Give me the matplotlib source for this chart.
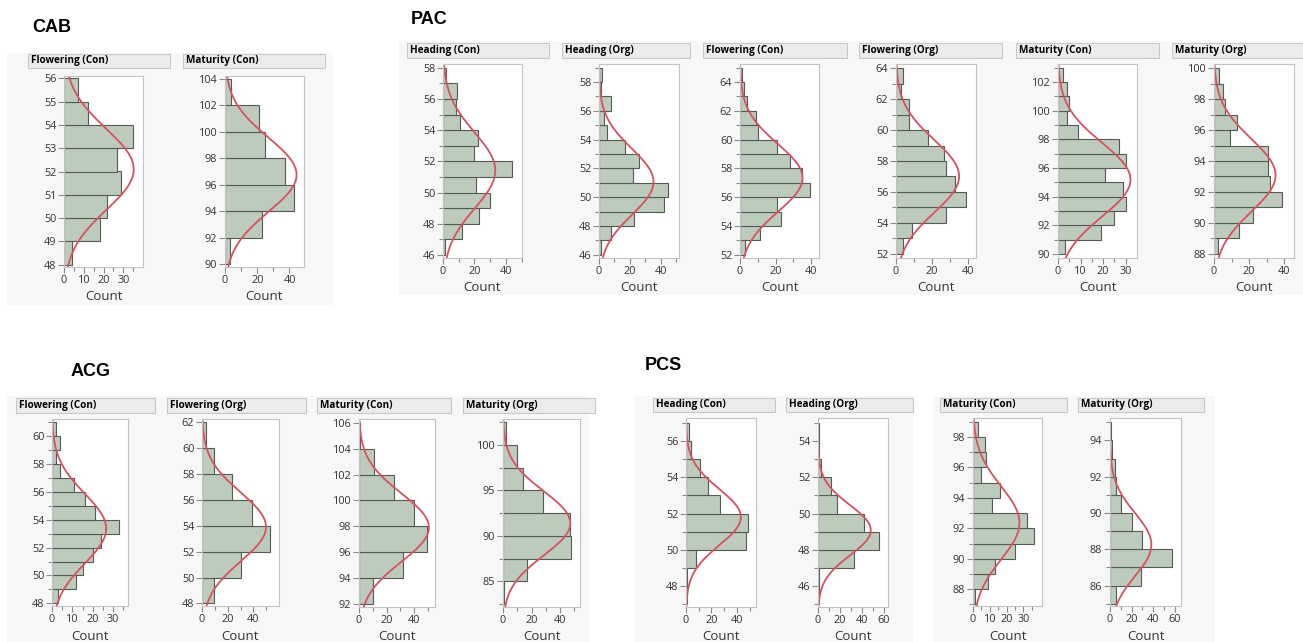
import matplotlib.pyplot as plt
import matplotlib.patches as mpatches
import numpy as np

plt.rcParams['font.family'] = ['Open Sans', 'DejaVu Sans']

W, H = 1303, 642

# bin counts, lowest bin first
cab_flowering_con = [4, 18, 22, 29, 27, 35, 12, 7]
cab_maturity_con = [3, 23, 43, 37, 25, 21, 4]

pac_heading_con = [1, 12, 23, 30, 21, 44, 20, 22, 11, 8, 9, 2]
pac_heading_org = [1, 8, 23, 42, 45, 22, 26, 17, 5, 3, 8, 1, 2]
pac_flowering_con = [3, 11, 23, 21, 39, 35, 28, 21, 10, 9, 4, 2, 1]
pac_flowering_org = [4, 9, 28, 39, 33, 28, 27, 18, 7, 7, 3, 4]
pac_maturity_con = [3, 19, 25, 30, 29, 21, 30, 27, 9, 4, 5, 4, 2]
pac_maturity_org = [2, 14, 22, 39, 32, 31, 31, 9, 13, 6, 5, 3]

acg_flowering_con = [3, 12, 15, 20, 24, 33, 21, 16, 11, 4, 2, 4, 2]
acg_flowering_org = [9, 30, 53, 39, 23, 9, 3]
acg_maturity_con = [10, 32, 49, 40, 25, 11, 1]
acg_maturity_org = [1, 17, 48, 47, 28, 14, 10, 2]

pcs_heading_con = [1, 1, 8, 47, 49, 27, 17, 11, 4, 2]
pcs_heading_org = [1, 1, 33, 56, 42, 17, 12, 3, 1, 1]
pcs_maturity_con = [1, 9, 13, 25, 36, 32, 11, 16, 5, 8, 7, 3]
pcs_maturity_org = [6, 29, 58, 30, 20, 10, 6, 5, 2, 1]

# (title, counts, first bin edge, bin width)
hists = [
    ('Flowering (Con)', cab_flowering_con, 48, 1),
    ('Maturity (Con)', cab_maturity_con, 90, 2),
    ('Heading (Con)', pac_heading_con, 46, 1),
    ('Heading (Org)', pac_heading_org, 46, 1),
    ('Flowering (Con)', pac_flowering_con, 52, 1),
    ('Flowering (Org)', pac_flowering_org, 52, 1),
    ('Maturity (Con)', pac_maturity_con, 90, 1),
    ('Maturity (Org)', pac_maturity_org, 88, 1),
    ('Flowering (Con)', acg_flowering_con, 48, 1),
    ('Flowering (Org)', acg_flowering_org, 48, 2),
    ('Maturity (Con)', acg_maturity_con, 92, 2),
    ('Maturity (Org)', acg_maturity_org, 82.5, 2.5),
    ('Heading (Con)', pcs_heading_con, 47, 1),
    ('Heading (Org)', pcs_heading_org, 45, 1),
    ('Maturity (Con)', pcs_maturity_con, 87, 1),
    ('Maturity (Org)', pcs_maturity_org, 85, 1),
]

# layout in pixels: axes (l, r, t, b), header (l, r, t, b), ylim, xmax, xstep, ystep
layout = [
    ((64, 143, 76, 267), (28, 170, 54, 68), (47.9, 56.1), 40, 10, 1),
    ((225, 304, 76, 267), (183, 325, 54, 68), (89.8, 104.2), 49, 20, 2),
    ((443, 522, 64, 258), (407, 549, 43, 58), (45.8, 58.25), 50.3, 20, 2),
    ((599, 679, 64, 258), (562, 690, 43, 58), (45.77, 59.25), 52, 20, 2),
    ((740, 819, 64, 258), (703, 847, 43, 58), (51.77, 65.25), 44.3, 20, 2),
    ((896, 976, 64, 258), (859, 1002, 43, 58), (51.74, 64.26), 44.7, 20, 2),
    ((1058, 1137, 64, 258), (1016, 1159, 43, 58), (89.72, 103.26), 35, 10, 2),
    ((1214, 1294, 64, 258), (1172, 1310, 43, 58), (87.74, 100.26), 45.7, 20, 2),
    ((52, 128, 419, 606), (16, 155, 398, 413), (47.8, 61.25), 37.3, 10, 2),
    ((202, 279, 419, 606), (167, 306, 398, 413), (47.8, 62.26), 60, 20, 2),
    ((359, 435, 419, 607), (317, 451, 398, 413), (91.74, 106.3), 55, 20, 2),
    ((503, 580, 419, 607), (463, 595, 398, 413), (82.16, 102.88), 54, 20, 5),
    ((686, 756, 418, 607), (653, 775, 398, 412), (46.86, 57.25), 55, 20, 2),
    ((818, 888, 418, 607), (786, 913, 398, 412), (44.86, 55.25), 64, 20, 2),
    ((973, 1042, 418, 606), (940, 1067, 398, 412), (86.9, 99.25), 41, 10, 2),
    ((1110, 1181, 418, 606), (1078, 1204, 398, 412), (84.88, 95.23), 66, 20, 2),
]

groups = [('CAB', 52, 28), ('PAC', 429, 19), ('ACG', 91, 371), ('PCS', 663, 366)]
backgrounds = [(7, 333, 53, 305), (399, 1303, 41, 295), (7, 589, 396, 642),
               (635, 913, 396, 642), (933, 1215, 396, 642)]

BAR = '#bccbbc'
EDGE = '#555a55'
CURVE = '#d8505f'

fig = plt.figure(figsize=(W / 100, H / 100), dpi=100)


def rect(box, **kw):
    l, r, t, b = box
    p = mpatches.Rectangle((l / W, 1 - b / H), (r - l) / W, (b - t) / H,
                           transform=fig.transFigure, **kw)
    fig.add_artist(p)


for box in backgrounds:
    rect(box, facecolor='#f7f7f7', edgecolor='none', zorder=-5)

for name, x, y in groups:
    fig.text(x / W, 1 - y / H, name, ha='center', va='center', fontsize=13,
             fontweight='bold', family=['Liberation Sans', 'DejaVu Sans'])

for (title, counts, start, width), (abox, hbox, ylim, xmax, xstep, ystep) in zip(hists, layout):
    rect(hbox, facecolor='#ebebeb', edgecolor='#c8c8c8', linewidth=0.8)
    fig.text((hbox[0] + 3) / W, 1 - (hbox[2] + hbox[3]) / 2 / H, title,
             ha='left', va='center', fontsize=7.2, fontweight='bold')

    l, r, t, b = abox
    ax = fig.add_axes([l / W, 1 - b / H, (r - l) / W, (b - t) / H])
    counts = np.array(counts, float)
    edges = start + width * np.arange(len(counts) + 1)
    ax.barh(edges[:-1], counts, height=width, align='edge', color=BAR,
            edgecolor=EDGE, linewidth=0.8)

    # normal fit scaled to counts
    mids = edges[:-1] + width / 2
    n = counts.sum()
    mu = (counts * mids).sum() / n
    sd = np.sqrt((counts * (mids - mu) ** 2).sum() / (n - 1))
    yy = np.linspace(ylim[0], ylim[1], 300)
    xx = n * width * np.exp(-0.5 * ((yy - mu) / sd) ** 2) / (sd * np.sqrt(2 * np.pi))
    ax.plot(xx, yy, color=CURVE, lw=1.3)

    ax.set_xlim(0, xmax)
    ax.set_ylim(*ylim)
    xt = np.arange(0, xmax - 0.15 * xstep, xstep)
    ax.set_xticks(xt)
    ax.set_xticks(np.arange(xstep / 2, xmax, xstep), minor=True)
    ax.set_xticklabels(['%g' % v for v in xt])
    yt = np.arange(np.ceil(ylim[0] / ystep) * ystep, ylim[1], ystep)
    ax.set_yticks(yt)
    ax.set_yticklabels(['%g' % v for v in yt])
    ax.set_yticks([e for e in edges if ylim[0] <= e <= ylim[1]], minor=True)
    ax.tick_params(which='both', direction='out', color='#8a8a8a', width=0.8,
                   labelcolor='#333333', labelsize=7.8, pad=1.5)
    ax.tick_params(which='major', length=4)
    ax.tick_params(which='minor', length=3)
    for s in ax.spines.values():
        s.set_color('#c2c2c2')
        s.set_linewidth(0.8)
    ax.set_xlabel('Count', fontsize=9.5, color='#333333', labelpad=3.5)

fig.savefig('out.png', dpi=100)
